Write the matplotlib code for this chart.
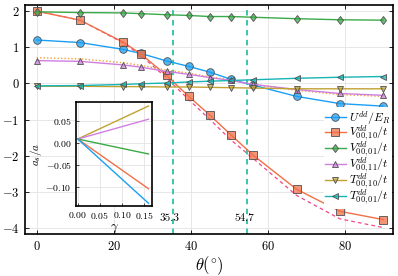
import matplotlib
matplotlib.use("Agg")
import matplotlib.pyplot as plt
from matplotlib.ticker import FuncFormatter

plt.rcParams['font.family'] = 'serif'
plt.rcParams['font.serif'] = ['cmr10', 'DejaVu Serif']
plt.rcParams['mathtext.fontset'] = 'cm'
plt.rcParams['axes.formatter.use_mathtext'] = True
plt.rcParams['axes.unicode_minus'] = True

# 数据
theta = [0, 11.25, 22.5, 27, 33.75, 39.5, 45, 50.5, 56.25, 67.5, 78.75, 90]
U_dd = [1.20, 1.13, 0.94, 0.83, 0.62, 0.47, 0.31, 0.11, -0.05, -0.36, -0.56, -0.63]
V_10 = [2.00, 1.75, 1.14, 0.82, 0.22, -0.36, -0.88, -1.43, -1.99, -2.93, -3.54, -3.77]
V_01 = [1.98, 1.96, 1.95, 1.93, 1.90, 1.88, 1.85, 1.85, 1.83, 1.79, 1.76, 1.75]
V_11 = [0.63, 0.61, 0.51, 0.45, 0.33, 0.25, 0.16, 0.08, -0.03, -0.17, -0.28, -0.33]
T_10 = [-0.08, -0.08, -0.09, -0.09, -0.10, -0.10, -0.11, -0.12, -0.13, -0.15, -0.15, -0.15]
T_01 = [-0.07, -0.06, -0.03, -0.01, 0.01, 0.04, 0.06, 0.08, 0.10, 0.14, 0.17, 0.19]
V_10_approx = [2.00, 1.75, 1.12, 0.78, 0.15, -0.45, -1.00, -1.57, -2.08, -3.10, -3.75, -3.99]
V_11_approx = [0.71, 0.68, 0.57, 0.50, 0.37, 0.28, 0.18, 0.09, -0.03, -0.19, -0.31, -0.36]
magic_angles = [35.3, 54.7]

# 插图数据
gamma = [0, 0.16]
as_T10 = [0.008, 0.083]
as_V11 = [0.008, 0.053]
as_V01 = [0.008, -0.026]
as_V10 = [0.008, -0.105]
as_U = [0.008, -0.138]

c_blue = '#1a9ff5'
c_orange = '#f07048'
c_green = '#3aaa48'
c_purple = '#d07ee0'
c_olive = '#c0a232'
c_teal = '#16b4b4'
c_vline = '#2cc0a4'
c_pink = '#f04888'
c_dot = '#f0a030'
edge = '#505050'

fig = plt.figure(figsize=(3.98, 2.76), dpi=100)
ax = fig.add_axes([0.063, 0.152, 0.924, 0.830])

ax.grid(True, color='#e3e3e3', lw=0.6, zorder=0)
ax.set_axisbelow(True)

for xv in magic_angles:
    ax.axvline(xv, color=c_vline, ls=(0, (3, 2.5)), lw=1.3, zorder=1)
    ax.text(xv - 0.8, -3.72, '%.1f' % xv, ha='center', va='center', fontsize=8, zorder=2)

ax.plot(theta, V_10_approx, color=c_pink, ls=(0, (3, 2.5)), lw=0.9, zorder=2)
ax.plot(theta, V_11_approx, color=c_dot, ls=(0, (1, 1.5)), lw=1.0, zorder=2)

series = [
    (U_dd, c_blue, 'o', r'$U^{dd}/E_R$'),
    (V_10, c_orange, 's', r'$V^{dd}_{00,10}/t$'),
    (V_01, c_green, 'd', r'$V^{dd}_{00,01}/t$'),
    (V_11, c_purple, '^', r'$V^{dd}_{00,11}/t$'),
    (T_10, c_olive, 'v', r'$T^{dd}_{00,10}/t$'),
    (T_01, c_teal, '<', r'$T^{dd}_{00,01}/t$'),
]
for vals, col, mk, lab in series:
    ms = 5.5 if mk in 'os' else 4.5
    ax.plot(theta, vals, color=col, lw=1.0, marker=mk, ms=ms,
            mfc=matplotlib.colors.to_rgba(col, 0.75), mec=edge, mew=0.6,
            label=lab, zorder=3)

ax.set_xlim(-3, 92.5)
ax.set_ylim(-4.17, 2.17)
ax.set_xticks([0, 20, 40, 60, 80])
ax.set_yticks([-4, -3, -2, -1, 0, 1, 2])
ax.tick_params(direction='in', top=True, right=True, labelsize=9, length=3, width=0.6, pad=4)
for s in ax.spines.values():
    s.set_linewidth(1.2)
ax.set_xlabel(r'$\theta(^{\circ})$', fontsize=12, labelpad=1)

leg = ax.legend(loc='lower right', bbox_to_anchor=(1.005, 0.1), fontsize=8.5,
                frameon=True, fancybox=False, edgecolor='none', framealpha=1,
                handlelength=1.7, handletextpad=0.3, labelspacing=-0.28,
                borderpad=0.15, borderaxespad=0.2)

# 插图
ins = fig.add_axes([0.191, 0.254, 0.191, 0.377])
ins.grid(True, color='#e3e3e3', lw=0.6)
ins.set_axisbelow(True)
ins.plot(gamma, as_T10, color=c_olive, lw=1.0)
ins.plot(gamma, as_V11, color=c_purple, lw=1.0)
ins.plot(gamma, as_V01, color=c_green, lw=1.0)
ins.plot(gamma, as_V10, color=c_orange, lw=1.0)
ins.plot(gamma, as_U, color=c_blue, lw=1.0)
ins.set_xlim(-0.004, 0.168)
ins.set_ylim(-0.144, 0.0925)
ins.set_xticks([0, 0.05, 0.10, 0.15])
ins.set_yticks([-0.10, -0.05, 0.0, 0.05])
fmt = FuncFormatter(lambda v, p: r'$%.2f$' % v)
ins.xaxis.set_major_formatter(fmt)
ins.yaxis.set_major_formatter(fmt)
ins.tick_params(direction='in', labelsize=7, length=2, width=0.5, pad=3)
for s in ins.spines.values():
    s.set_linewidth(1.2)
ins.set_xlabel(r'$\gamma$', fontsize=9, labelpad=1)
ins.set_ylabel(r'$a_s/a$', fontsize=8, labelpad=1)

fig.savefig('out.png', dpi=100)
